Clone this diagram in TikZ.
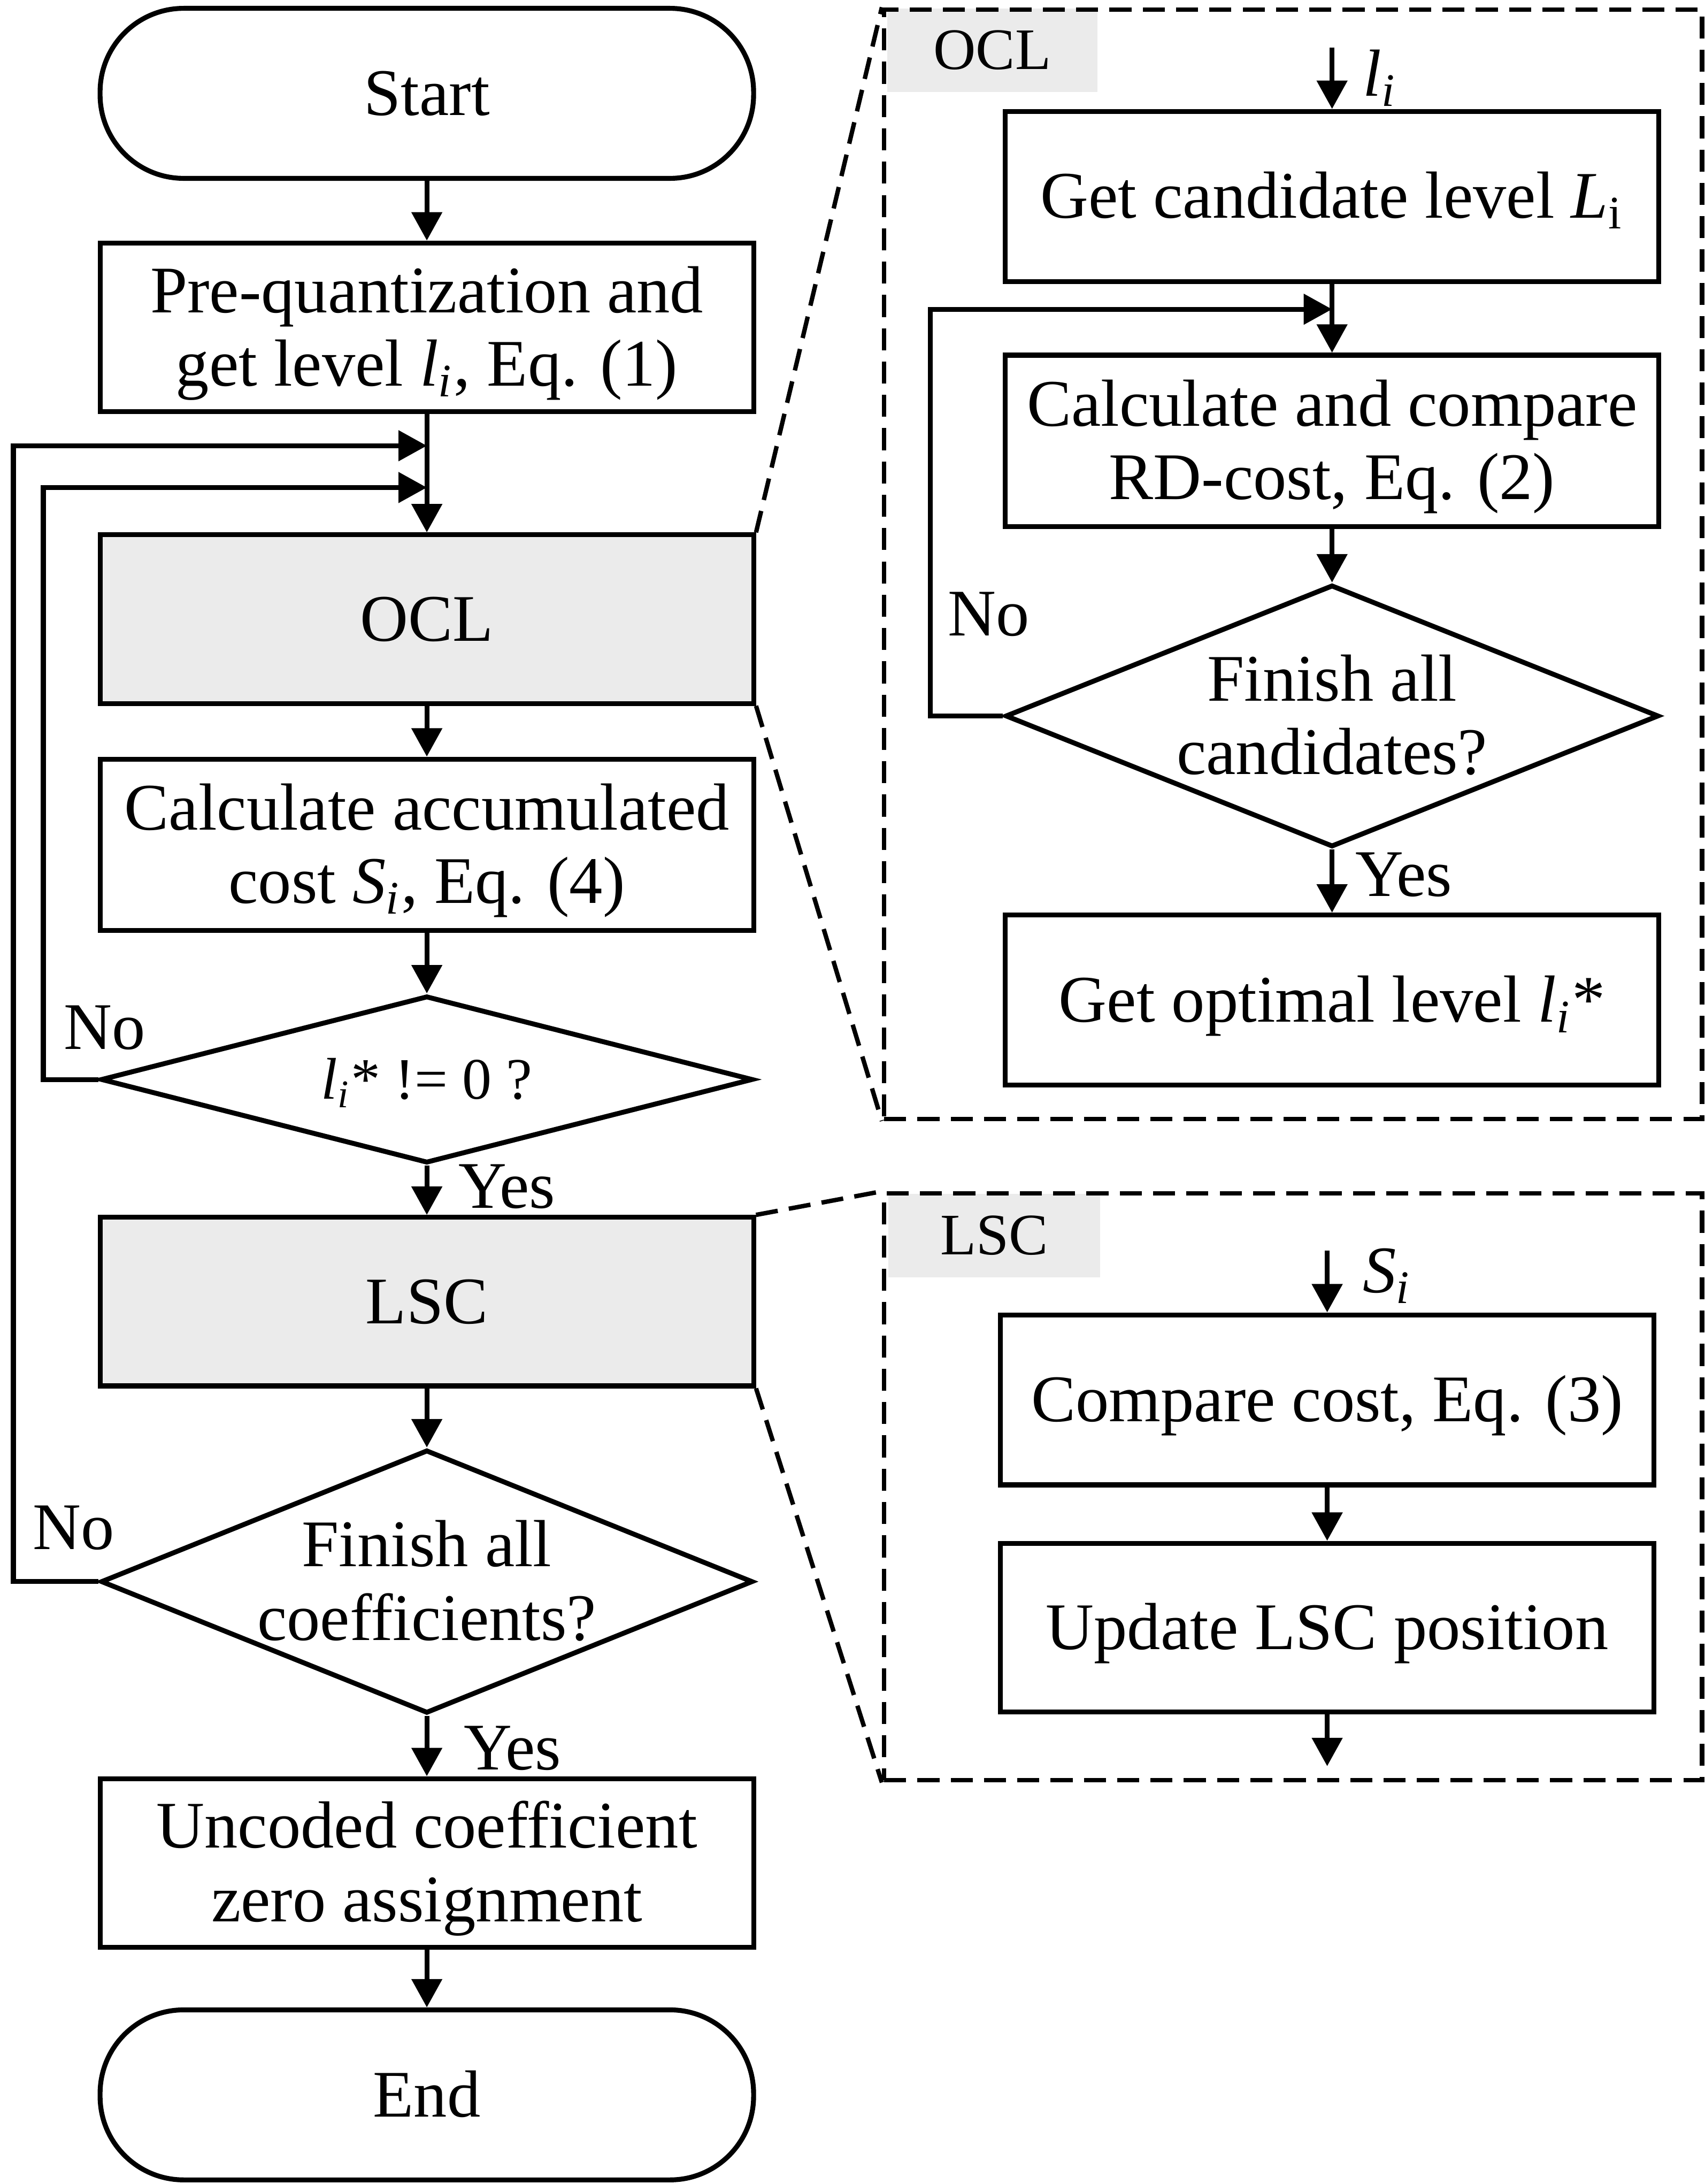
\documentclass[tikz,border=0pt]{standalone}
\usepackage{fontspec}
\setmainfont{Liberation Serif}
\usetikzlibrary{arrows.meta,shapes.geometric}
\definecolor{boxgray}{RGB}{235,235,235}
\newcommand{\lisym}{\textit{l}\textsubscript{\textit{i}}}
% single line, centred on its capital height
\newcommand{\one}[1]{\raisebox{0pt}[0.655em][0pt]{#1}}
% two lines, centred between the first cap line and the last baseline
\newcommand{\two}[2]{\raisebox{0pt}[0pt][6.1pt]{\begin{tabular}[t]{@{}c@{}}#1\\#2\end{tabular}}}
\begin{document}
\begin{tikzpicture}[x=0.01cm,y=-0.01cm,
  font=\fontsize{13.6}{15}\selectfont,
  line width=1pt,
  arr/.style={-{Triangle[length=5.8pt,width=6.1pt]}},
  proc/.style={draw, rectangle, minimum width=4.69cm, minimum height=1.22cm, inner sep=0pt},
  term/.style={proc, rounded corners=0.6cm},
  greybox/.style={fill=boxgray},
  dec/.style={draw, diamond, aspect=2.5, inner sep=0pt},
  pan/.style={draw, rectangle, inner sep=0pt, line width=0.9pt, dash pattern=on 4.5pt off 2.3pt},
  dline/.style={line width=0.9pt, dash pattern=on 4.5pt off 2.3pt},
  tag/.style={fill=boxgray, inner sep=0pt, font=\fontsize{12}{14}\selectfont},
  lbl/.style={inner sep=0pt}
]
\useasboundingbox (0,0) rectangle (1224,1568);

% ---------- left column ----------
\node[term] (start) at (306.5,67) {\one{Start}};
\node[proc, minimum height=1.21cm] (pre) at (306.5,235) {\two{Pre-quantization and}{get level \lisym, Eq. (1)}};
\node[proc, greybox, minimum height=1.21cm] (ocl) at (306.5,444.5) {\one{OCL}};
\node[proc, minimum height=1.23cm] (calc) at (306.5,606.5) {\two{Calculate accumulated}{cost \textit{S}\textsubscript{\textit{i}}, Eq. (4)}};
\node[dec, minimum width=4.68cm, minimum height=1.2cm, font=\fontsize{12}{14}\selectfont] (dia1) at (306.5,775) {\one{\lisym* != 0 ?}};
\node[proc, greybox, minimum height=1.21cm] (lsc) at (306.5,934.5) {\one{LSC}};
\node[dec, minimum width=4.68cm, minimum height=1.89cm] (dia2) at (306.5,1135.5) {\two{Finish all}{coefficients?}};
\node[proc, minimum height=1.21cm] (unc) at (306.5,1337.5) {\two{Uncoded coefficient}{zero assignment}};
\node[term] (end) at (306.5,1504) {\one{End}};

\coordinate (j1) at (306.5,320);
\coordinate (j2) at (306.5,350);

\draw[arr] (start) -- (pre);
\draw[arr] (pre) -- (ocl);
\draw[arr] (ocl) -- (calc);
\draw[arr] (calc) -- (dia1);
\draw[arr] (dia1) -- (lsc);
\draw[arr] (lsc) -- (dia2);
\draw[arr] (dia2) -- (unc);
\draw[arr] (unc) -- (end);
\draw[arr] (dia1.west) -- ++(-39.5,0) |- (j2);
\draw[arr] (dia2.west) -- ++(-61,0) |- (j1);

\node[lbl] (no1) at (75,738) {No};
\node[lbl] (no2) at (53,1097) {No};
\node[lbl] (yes1) at (364,852) {Yes};
\node[lbl] (yes2) at (368,1255) {Yes};

% ---------- OCL panel ----------
\node[tag, minimum width=1.51cm, minimum height=0.6cm] (ocltag) at (712.5,36) {OCL};
\node[pan, minimum width=5.87cm, minimum height=7.96cm] (oclp) at (928.5,405) {};
\draw[dline] (ocl.north east) -- (oclp.north west);
\draw[dline] (ocl.south east) -- (oclp.south west);

\coordinate (lin) at (956.5,34);
\node[proc] (getc) at (956.5,141) {\one{Get candidate level \textit{L}\textsubscript{i}}};
\node[proc, minimum height=1.23cm] (cmp) at (956.5,316.5) {\two{Calculate and compare}{RD-cost, Eq. (2)}};
\node[dec, minimum width=4.69cm, minimum height=1.88cm] (dia3) at (956.5,514) {\two{Finish all}{candidates?}};
\node[proc] (opt) at (956.5,718) {\one{Get optimal level \lisym*}};
\coordinate (jr) at (956.5,222);

\draw[arr] (lin) -- (getc);
\draw[arr] (getc) -- (cmp);
\draw[arr] (cmp) -- (dia3);
\draw[arr] (dia3) -- (opt);
\draw[arr] (dia3.west) -- ++(-52,0) |- (jr);

\node[lbl] (lil) at (991,56) {\lisym};
\node[lbl] (no3) at (710,441) {No};
\node[lbl] (yes3) at (1008,628) {Yes};

% ---------- LSC panel ----------
\node[tag, minimum width=1.52cm, minimum height=0.6cm] (lsctag) at (714,887) {LSC};
\node[pan, minimum width=5.87cm, minimum height=4.21cm] (lscp) at (928.5,1067.5) {};
\draw[dline] (lsc.north east) -- (lscp.north west);
\draw[dline] (lsc.south east) -- (lscp.south west);

\coordinate (sin) at (953,898);
\node[proc] (cmpc) at (953,1005) {\one{Compare cost, Eq. (3)}};
\node[proc, minimum height=1.21cm] (upd) at (953,1168.5) {\one{Update LSC position}};
\coordinate (lout) at (953,1268);

\draw[arr] (sin) -- (cmpc);
\draw[arr] (cmpc) -- (upd);
\draw[arr] (upd) -- (lout);

\node[lbl] (sil) at (996,916) {\textit{S}\textsubscript{\textit{i}}};
\end{tikzpicture}
\end{document}
